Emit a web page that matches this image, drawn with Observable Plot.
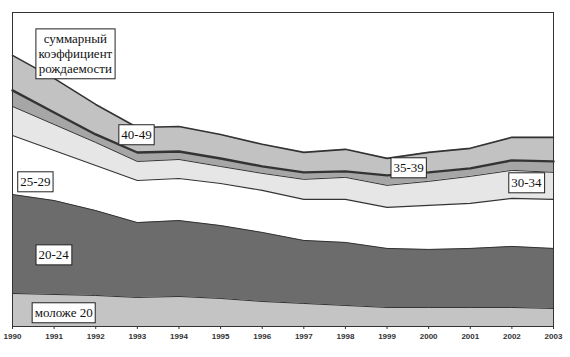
<!DOCTYPE html>
<html><head><meta charset="utf-8">
<script src="https://cdn.jsdelivr.net/npm/d3@7"></script>
<script src="https://cdn.jsdelivr.net/npm/@observablehq/plot@0.6"></script>
<style>body{margin:0;background:#fff}</style>
</head><body><div id="chart"></div>
<script>
const years = [1990,1991,1992,1993,1994,1995,1996,1997,1998,1999,2000,2001,2002,2003];
const groups = ["моложе 20","20-24","25-29","30-34","35-39","40-49"];
const under20 = [0.231,0.224,0.217,0.203,0.210,0.196,0.175,0.161,0.147,0.133,0.133,0.133,0.133,0.126];
const age20_24 = [0.692,0.657,0.594,0.524,0.531,0.510,0.483,0.441,0.441,0.413,0.406,0.413,0.427,0.420];
const age25_29 = [0.413,0.350,0.315,0.294,0.294,0.294,0.294,0.287,0.301,0.287,0.308,0.315,0.336,0.343];
const age30_34 = [0.203,0.182,0.161,0.133,0.133,0.119,0.119,0.140,0.154,0.154,0.168,0.189,0.196,0.189];
const age35_39 = [0.112,0.084,0.056,0.063,0.056,0.056,0.049,0.049,0.042,0.070,0.063,0.056,0.070,0.077];
const age40_49 = [0.245,0.238,0.210,0.175,0.175,0.168,0.154,0.140,0.154,0.119,0.140,0.140,0.161,0.168];
const series = [under20, age20_24, age25_29, age30_34, age35_39, age40_49];

// annotation labels (data coordinates)
const labelText = ["суммарный\nкоэффициент\nрождаемости","40-49","35-39","30-34","25-29","20-24","моложе 20"];
const labelX = [1991.51,1992.98,1999.52,2002.35,1990.55,1990.99,1991.23];
const labelY = [1.909,1.343,1.112,1.007,1.014,0.503,0.098];

const data = [];
groups.forEach((g,i)=>years.forEach((yr,j)=>data.push({year:yr, group:g, value:series[i][j]})));
const labels = labelText.map((t,i)=>({text:t, x:labelX[i], y:labelY[i]}));

const fills = ["#c4c4c4","#6c6c6c","#ffffff","#e6e6e6","#a6a6a6","#c2c2c2"];
const widths = {"моложе 20":1,"20-24":1,"25-29":1.1,"30-34":1,"35-39":2.4,"40-49":1.6};

const plot = Plot.plot({
  width:570, height:357,
  marginLeft:12, marginRight:17, marginTop:12, marginBottom:31,
  x:{domain:[1990,2003], ticks:years, tickFormat:d=>String(d), tickSize:3, tickPadding:4, label:null},
  y:{domain:[0,2.196], axis:null},
  color:{domain:groups, range:fills},
  style:{fontFamily:"'Liberation Sans', Arial, sans-serif", fontSize:"8px", fontWeight:"bold", color:"#333", background:"#fff"},
  marks:[
    Plot.areaY(data, {x:"year", y:"value", z:"group", fill:"group", order:groups}),
    Plot.lineY(data, Plot.stackY2({x:"year", y:"value", z:"group", order:groups, stroke:"#333", strokeWidth:d=>widths[d.group]})),
    Plot.frame({stroke:"#333", strokeWidth:1}),
    Plot.text(labels, {x:"x", y:"y", text:"text", fontFamily:"Liberation Serif", fontSize:13, fontWeight:"normal", fill:"#111", lineHeight:1.15})
  ]
});
document.getElementById("chart").appendChild(plot);

// boxes behind annotation labels
const ns = "http://www.w3.org/2000/svg";
const g = d3.select(plot).selectAll('g[aria-label="text"]');
g.style("font-family", "'Liberation Serif', 'Times New Roman', serif").style("font-weight", "normal").style("font-size", "13px");
g.selectAll("text").each(function(){
  this.style.fontFamily = "'Liberation Serif', 'Times New Roman', serif";
  const b = this.getBBox();
  const r = document.createElementNS(ns, "rect");
  r.setAttribute("x", b.x - 2.5);
  r.setAttribute("y", b.y - 2.5);
  r.setAttribute("width", b.width + 5);
  r.setAttribute("height", b.height + 5);
  r.setAttribute("fill", "#fff");
  r.setAttribute("stroke", "#222");
  r.setAttribute("stroke-width", 1);
  const tr = this.getAttribute("transform");
  if (tr) r.setAttribute("transform", tr);
  this.parentNode.insertBefore(r, this);
});
</script>
</body></html>
